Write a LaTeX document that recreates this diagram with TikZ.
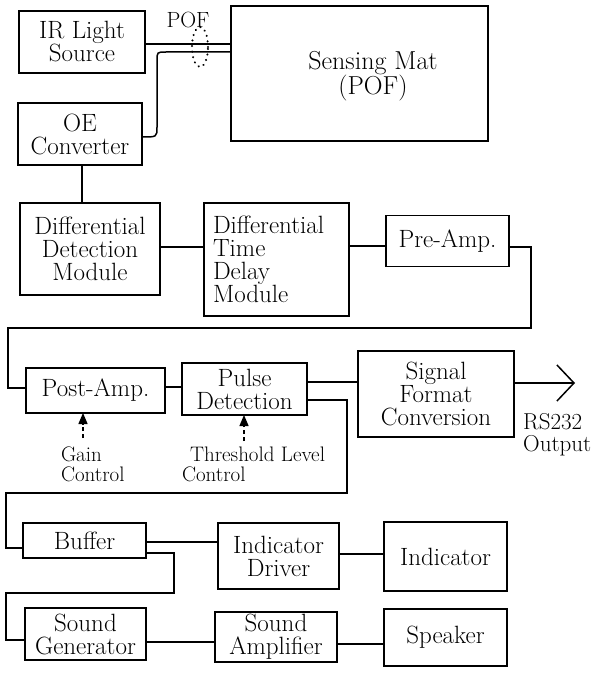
\documentclass[tikz,border=0pt]{standalone}
\usetikzlibrary{arrows.meta}
\begin{document}
\begin{tikzpicture}[x=1pt,y=-1pt,
  box/.style={draw,line width=1.5pt,inner sep=0pt,outer sep=0pt,align=center,font=\fontsize{25}{23}\selectfont},
  wire/.style={line width=1.5pt},
  ctl/.style={line width=1.3pt,dash pattern=on 4pt off 3pt,-{Triangle[length=11pt,width=9pt]}},
  lbl/.style={inner sep=0pt,outer sep=0pt,align=left,font=\fontsize{21}{20}\selectfont}]
\useasboundingbox (0,0) rectangle (601,674);
% boxes
\node[box,minimum width=126pt,minimum height=62pt] (ir) at (82,42) {IR Light\\Source};
\node[box,minimum width=257pt,minimum height=135pt] (mat) at (359.5,73.5) {};
\node[inner sep=0pt,align=center,font=\fontsize{26}{25}\selectfont] (matlbl) at (373,76) {Sensing Mat\\(POF)};
\node[box,minimum width=124pt,minimum height=62pt] (oe) at (80,134) {OE\\Converter};
\node[box,minimum width=140pt,minimum height=92pt] (ddm) at (90,249) {Differential\\Detection\\Module};
\node[box,align=left,text width=127pt,inner xsep=9pt,minimum height=113pt] (dtdm) at (276.5,259.5) {Differential\\Time\\Delay\\Module};
\node[box,minimum width=123pt,minimum height=51pt] (pre) at (447.5,241) {Pre-Amp.};
\node[box,minimum width=139pt,minimum height=45pt] (post) at (95.5,390.5) {Post-Amp.};
\node[box,minimum width=125pt,minimum height=52pt] (pulse) at (244.5,389) {Pulse\\Detection};
\node[box,minimum width=156pt,minimum height=86pt] (sfc) at (436,394) {Signal\\Format\\Conversion};
\node[box,minimum width=123pt,minimum height=35pt] (buf) at (84.5,540.5) {Buffer};
\node[box,minimum width=121pt,minimum height=66pt] (idrv) at (278.5,556) {Indicator\\Driver};
\node[box,minimum width=123pt,minimum height=69pt] (ind) at (445.5,556.5) {Indicator};
\node[box,minimum width=121pt,minimum height=52pt] (sg) at (85.5,634) {Sound\\Generator};
\node[box,minimum width=122pt,minimum height=50pt] (sa) at (276,637) {Sound\\Amplifier};
\node[box,minimum width=123pt,minimum height=57pt] (spk) at (445.5,637.5) {Speaker};
% labels
\node[inner sep=0pt,font=\fontsize{22}{22}\selectfont,anchor=base] (poflbl) at (188,28) {POF};
\node[lbl,anchor=north west] (gainlbl) at (61,447) {Gain\\Control};
\node[lbl,anchor=north west] (thrlbl) at (182,447) {\hspace*{8pt}Threshold Level\\Control};
\node[inner sep=0pt,align=left,font=\fontsize{23}{22}\selectfont,anchor=north west] (rslbl) at (523,413) {RS232\\Output};
% fibre
\draw[wire] (ir.east |- 0,44) -- (mat.west |- 0,44);
\draw[wire] (mat.west |- 0,52) -- (166,52) .. controls (157,52) .. (157,61) -- (157,127) .. controls (157,137) .. (oe.east |- 0,137);
\draw[line width=2.2pt,line cap=round,dash pattern=on 0.1pt off 5.5pt] (200,47) ellipse [x radius=8pt,y radius=20pt];
% signal chain
\draw[wire] (82,0 |- oe.south) -- (82,0 |- ddm.north);
\draw[wire] (ddm.east |- 0,247) -- (dtdm.west |- 0,247);
\draw[wire] (dtdm.east |- 0,246) -- (pre.west |- 0,246);
\draw[wire] (pre.east |- 0,247) -- (531,247) -- (531,328) -- (8,328) -- (8,388) -- (post.west |- 0,388);
\draw[wire] (post.east |- 0,387) -- (pulse.west |- 0,387);
\draw[wire] (pulse.east |- 0,382) -- (sfc.west |- 0,382);
\coordinate (outend) at (575,383);
\draw[wire,-{Straight Barb[length=17pt,width=36pt,line width=1.5pt]}] (sfc.east |- outend) -- (outend);
\draw[wire] (pulse.east |- 0,400) -- (347,400) -- (347,493) -- (6,493) -- (6,548) -- (buf.west |- 0,548);
% controls
\coordinate (gainst) at (83,438);
\coordinate (thrst) at (244,441);
\draw[ctl] (gainst) -- (gainst |- post.south);
\draw[ctl] (thrst) -- (thrst |- pulse.south);
% output stage
\draw[wire] (buf.east |- 0,542) -- (idrv.west |- 0,542);
\draw[wire] (buf.east |- 0,553) -- (174,553) -- (174,593) -- (6,593) -- (6,640) -- (sg.west |- 0,640);
\draw[wire] (idrv.east |- 0,554) -- (ind.west |- 0,554);
\draw[wire] (sg.east |- 0,642) -- (sa.west |- 0,642);
\draw[wire] (sa.east |- 0,644) -- (spk.west |- 0,644);
\end{tikzpicture}
\end{document}
